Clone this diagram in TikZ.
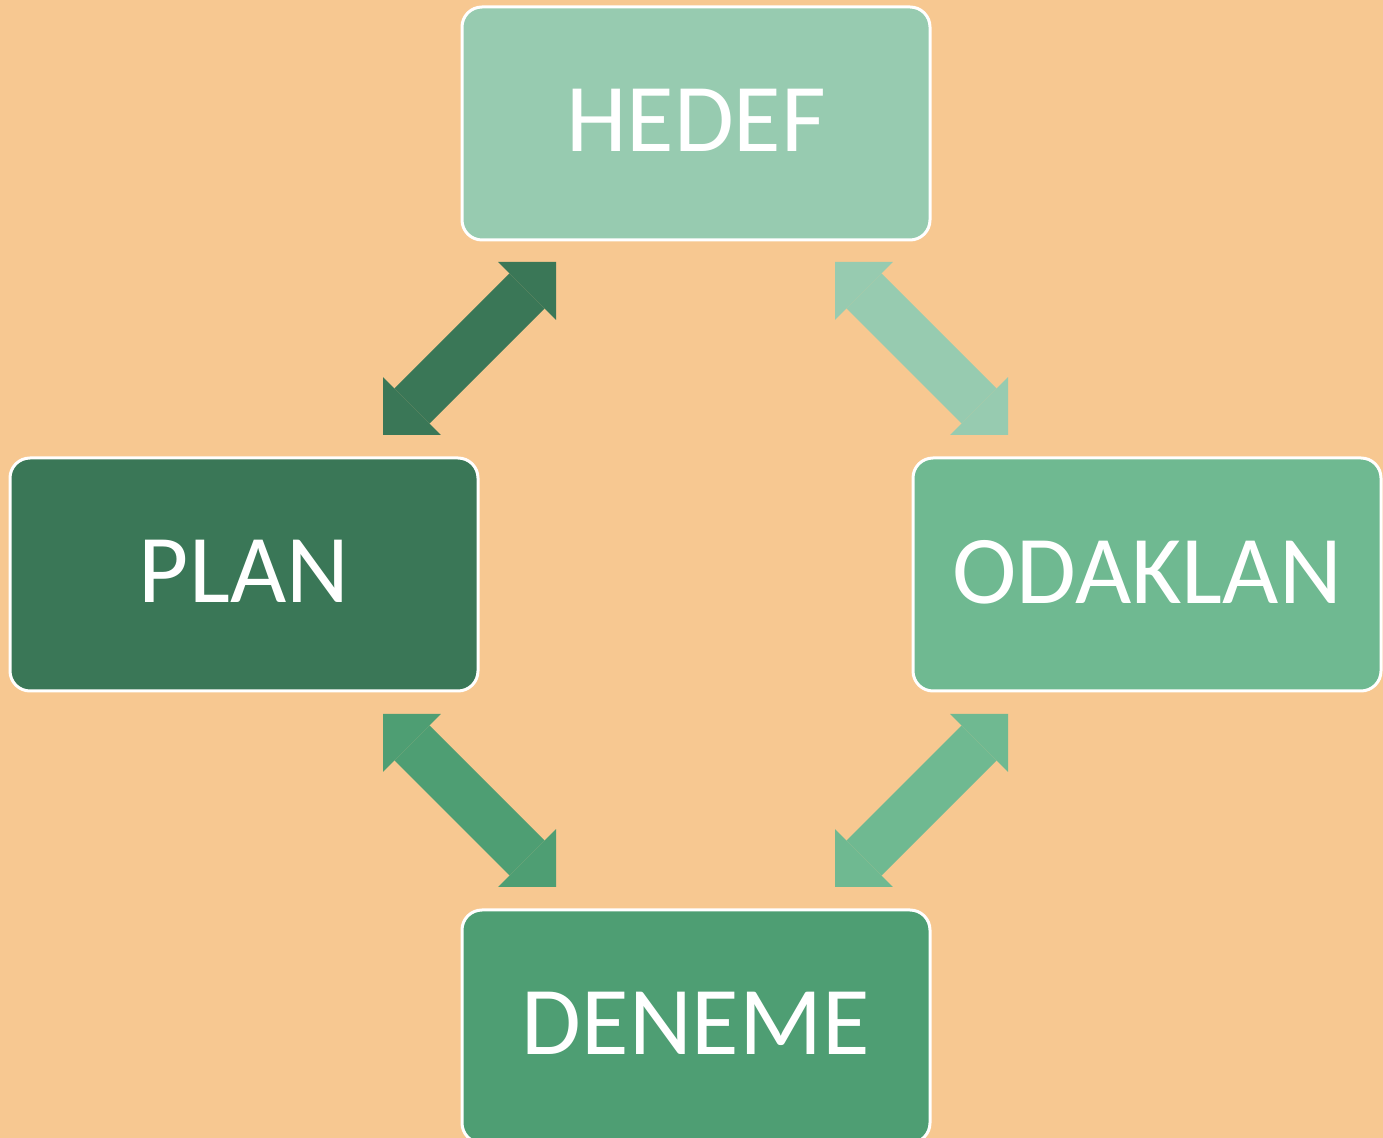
\documentclass[tikz,border=0pt]{standalone}
\usepackage{fontspec}
\setmainfont{Carlito}
\usetikzlibrary{arrows.meta}

\definecolor{bgorange}{HTML}{F7C891}
\definecolor{greenlight}{HTML}{97CBB0}
\definecolor{greenmid}{HTML}{6FB991}
\definecolor{greendeep}{HTML}{4E9E73}
\definecolor{greendark}{HTML}{3A7757}

\tikzset{
  box/.style={draw=white, line width=1.5pt, rounded corners=10pt,
    minimum width=234pt, minimum height=116.5pt, inner sep=0pt, outer sep=0pt,
    text=white, font=\fontsize{48.6}{58}\selectfont, text depth=3pt},
  link/.style={line width=24.75pt, {Triangle[length=20.5pt, width=41pt, line width=0pt]}-{Triangle[length=20.5pt, width=41pt, line width=0pt]}},
}

\begin{document}
\begin{tikzpicture}[x=0.5pt, y=-0.5pt]

    % background
    \useasboundingbox (0,0) rectangle (1383,1138);
    \clip (0,0) rectangle (1383,1138);
    \fill[bgorange] (0,0) rectangle (1383,1138);

    % boxes
    \node[box, fill=greenlight] (hedef) at (696,123.5) {HEDEF};
    \node[box, fill=greendark] (plan) at (244,574.5) {PLAN};
    \node[box, fill=greenmid] (odaklan) at (1147,574.5) {ODAKLAN};
    \node[box, fill=greendeep] (deneme) at (696,1026.5) {DENEME};

    % arrow ends
    \coordinate (planup) at (383,435);
    \coordinate (hedefleft) at (556,262);
    \coordinate (hedefright) at (835,262);
    \coordinate (odaklanup) at (1008,435);
    \coordinate (plandown) at (383,714);
    \coordinate (denemeleft) at (556,887);
    \coordinate (odaklandown) at (1008,714);
    \coordinate (denemeright) at (835,887);

    % plan <-> hedef
    \draw[link, greendark] (planup) -- (hedefleft);
    % hedef <-> odaklan
    \draw[link, greenlight] (hedefright) -- (odaklanup);
    % plan <-> deneme
    \draw[link, greendeep] (plandown) -- (denemeleft);
    % odaklan <-> deneme
    \draw[link, greenmid] (odaklandown) -- (denemeright);

\end{tikzpicture}
\end{document}
